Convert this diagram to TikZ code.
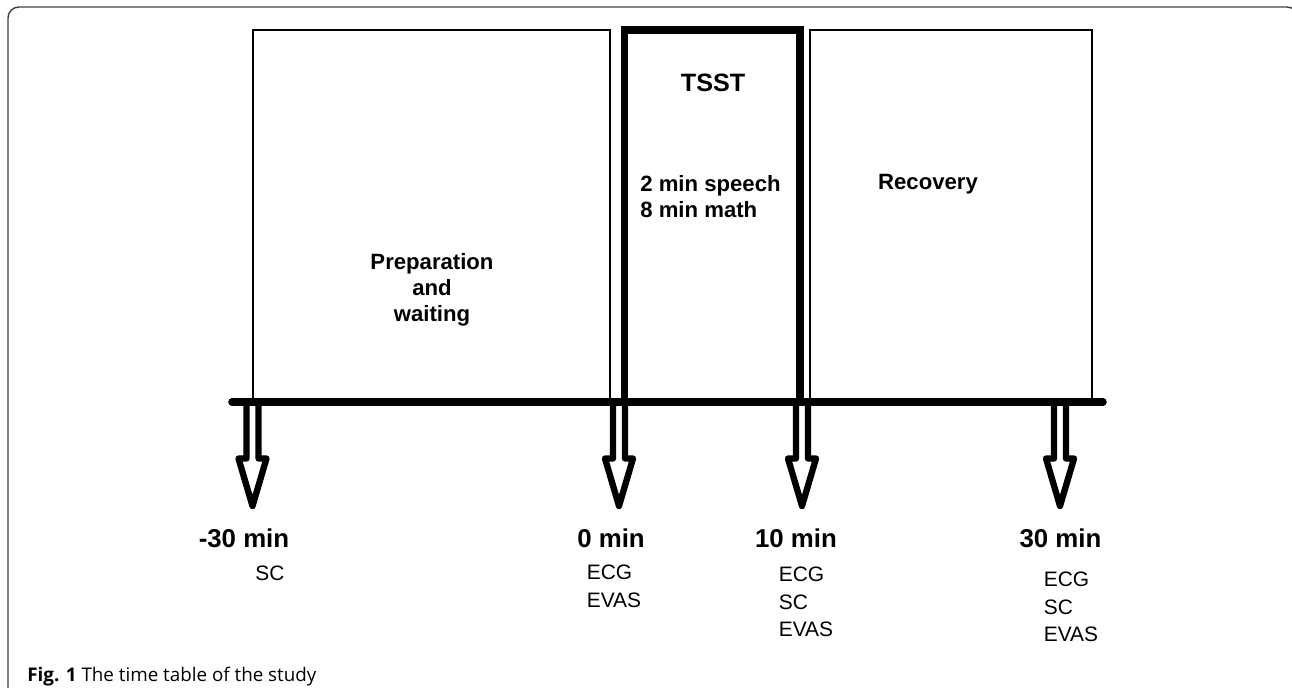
\documentclass[tikz,border=0pt]{standalone}
\usepackage{fontspec}
\setmainfont{Liberation Sans}
\newfontfamily\capfont{Open Sans}
\usepackage{tikz}
\usetikzlibrary{positioning}

\begin{document}
\begin{tikzpicture}[x=1cm,y=1cm,
    phasebox/.style={draw=black,line width=0.8pt},
    stressbox/.style={draw=black,line width=4.5pt,line join=miter},
    hollowarrow/.style={draw=black,line width=3.6pt,line join=round},
    boxtext/.style={font=\bfseries\fontsize{12.6}{14.7}\selectfont,align=center,inner sep=0pt},
    timelabel/.style={font=\bfseries\fontsize{14.7}{17}\selectfont,inner sep=0pt},
    measure/.style={font=\fontsize{11.9}{15.6}\selectfont,align=left,anchor=north west,inner sep=0pt}]
    \useasboundingbox (0,0) rectangle (25.84,13.74);
    % outer frame
    \draw[black!75,line width=0.8pt,rounded corners=0.22cm] (0.16,-0.5) -- (0.16,13.6) -- (25.96,13.6) -- (25.96,12);
    % phases
    \draw[phasebox] (5.06,5.70) rectangle (12.2,13.14);
    \draw[phasebox] (16.2,5.70) rectangle (21.84,13.14);
    \draw[stressbox] (12.49,5.70) -- (12.49,13.14) -- (16.0,13.14) -- (16.0,5.70);
    \node[boxtext] (prepare) at (8.64,7.95) {Preparation\\and\\waiting};
    \node[boxtext,font=\bfseries\fontsize{14.3}{16}\selectfont] (tsst) at (14.26,12.08) {TSST};
    \node[boxtext,align=left,anchor=west] (tasks) at (12.8,9.8) {2 min speech\\8 min math};
    \node[boxtext] (recover) at (18.56,10.06) {Recovery};
    % time points
    \foreach \cx/\nm in {5.05/a,12.38/b,16.04/c,21.2/d}{
      \coordinate (t\nm) at (\cx,5.70);
      \coordinate (tip\nm) at (\cx,3.62);
      \draw[hollowarrow] (\cx-0.12,5.70) -- (\cx-0.12,4.57) -- (\cx-0.28,4.57) -- (tip\nm)
        -- (\cx+0.28,4.57) -- (\cx+0.12,4.57) -- (\cx+0.12,5.70);
    }
    \coordinate (tstart) at (4.64,5.70);
    \coordinate (tend) at (22.06,5.70);
    \draw[line width=4.3pt,line cap=round] (tstart) -- (tend);
    \node[timelabel] (lminus) at (4.88,2.98) {-30 min};
    \node[timelabel] (lzero) at (12.22,2.98) {0 min};
    \node[timelabel] (lten) at (15.92,2.98) {10 min};
    \node[timelabel] (lthirty) at (21.21,2.98) {30 min};
    \node[measure] (mminus) at (5.10,2.42) {SC};
    \node[measure] (mzero) at (11.73,2.44) {ECG\\EVAS};
    \node[measure] (mten) at (15.57,2.40) {ECG\\SC\\EVAS};
    \node[measure] (mthirty) at (20.87,2.30) {ECG\\SC\\EVAS};
    % caption
    \node[anchor=base west,font=\capfont\fontsize{10.7}{12}\selectfont,inner sep=0pt] (caption) at (0.54,0.12) {\textbf{Fig. 1} The time table of the study};
\end{tikzpicture}
\end{document}
